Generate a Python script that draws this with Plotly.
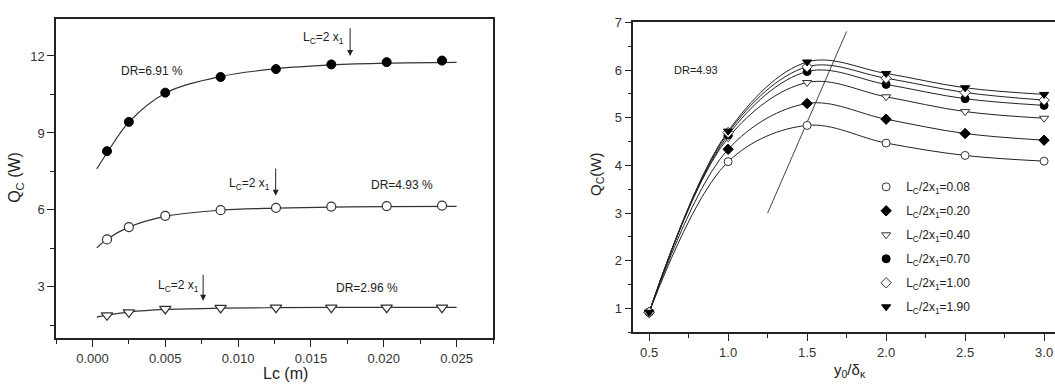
import plotly.graph_objects as go

# ---------------- data: left panel ----------------
lc_x = [0.001, 0.0025, 0.005, 0.0088, 0.0126, 0.0164, 0.0202, 0.024]
q_dr691 = [8.29, 9.43, 10.57, 11.18, 11.49, 11.67, 11.76, 11.82]
q_dr493 = [4.85, 5.33, 5.77, 5.99, 6.08, 6.13, 6.15, 6.17]
q_dr296 = [1.89, 2.01, 2.14, 2.18, 2.19, 2.19, 2.19, 2.19]

# fitted curves
fit_x = [0.0003, 0.001, 0.0025, 0.005, 0.0088, 0.0126, 0.0164, 0.0202, 0.025]
fit_691 = [7.6, 8.22, 9.42, 10.55, 11.2, 11.5, 11.65, 11.72, 11.75]
fit_493 = [4.52, 4.86, 5.33, 5.75, 5.99, 6.07, 6.11, 6.13, 6.14]
fit_296 = [1.82, 1.9, 2.02, 2.12, 2.17, 2.19, 2.2, 2.2, 2.2]

# ---------------- data: right panel ----------------
y0_x = [0.5, 1.0, 1.5, 2.0, 2.5, 3.0]
series_names = ["0.08", "0.20", "0.40", "0.70", "1.00", "1.90"]
q_008 = [0.92, 4.08, 4.84, 4.47, 4.21, 4.09]
q_020 = [0.92, 4.34, 5.30, 4.97, 4.67, 4.53]
q_040 = [0.92, 4.58, 5.74, 5.44, 5.13, 4.99]
q_070 = [0.92, 4.64, 5.97, 5.70, 5.40, 5.26]
q_100 = [0.92, 4.69, 6.07, 5.83, 5.53, 5.37]
q_190 = [0.92, 4.72, 6.17, 5.93, 5.63, 5.49]
right_series = [q_008, q_020, q_040, q_070, q_100, q_190]

# guide line in right panel
guide_x = [1.25, 1.75]
guide_y = [3.0, 6.81]

FONT = "Liberation Sans, Arial, sans-serif"
TXT = "#222222"

fig = go.Figure()

# left panel
for fy in [fit_691, fit_493, fit_296]:
    fig.add_trace(go.Scatter(x=fit_x, y=fy, mode="lines", line=dict(color="#333", width=1.2, shape="spline", smoothing=1.0),
                             xaxis="x", yaxis="y", showlegend=False, hoverinfo="skip"))
fig.add_trace(go.Scatter(x=lc_x, y=q_dr691, mode="markers", xaxis="x", yaxis="y", showlegend=False,
                         marker=dict(symbol="circle", size=9, color="black", line=dict(color="black", width=1))))
fig.add_trace(go.Scatter(x=lc_x, y=q_dr493, mode="markers", xaxis="x", yaxis="y", showlegend=False,
                         marker=dict(symbol="circle", size=9, color="white", line=dict(color="#333", width=1.2))))
fig.add_trace(go.Scatter(x=lc_x, y=q_dr296, mode="markers", xaxis="x", yaxis="y", showlegend=False,
                         marker=dict(symbol="triangle-down", size=10, color="white", line=dict(color="#333", width=1.2))))

# right panel
fig.add_trace(go.Scatter(x=guide_x, y=guide_y, mode="lines", line=dict(color="#444", width=1),
                         xaxis="x2", yaxis="y2", showlegend=False, hoverinfo="skip"))
for ys in right_series:
    fig.add_trace(go.Scatter(x=y0_x, y=ys, mode="lines", line=dict(color="#222", width=1, shape="spline", smoothing=1.0),
                             xaxis="x2", yaxis="y2", showlegend=False, hoverinfo="skip"))
symbols = [
    dict(symbol="circle", color="white", line=dict(color="#333", width=1)),
    dict(symbol="diamond", color="black", line=dict(color="black", width=1)),
    dict(symbol="triangle-down", color="white", line=dict(color="#333", width=1)),
    dict(symbol="circle", color="black", line=dict(color="black", width=1)),
    dict(symbol="diamond", color="white", line=dict(color="#333", width=1)),
    dict(symbol="triangle-down", color="black", line=dict(color="black", width=1)),
]
for name, ys, sym in zip(series_names, right_series, symbols):
    fig.add_trace(go.Scatter(x=y0_x, y=ys, mode="markers", xaxis="x2", yaxis="y2",
                             name=f"L<sub>C</sub>/2x<sub>1</sub>={name}", legendgroup=name,
                             marker=dict(size=8, **sym)))

axis_common = dict(showline=True, linecolor="#222", linewidth=1.5, ticks="outside", ticklen=7, tickwidth=1.2,
                   tickcolor="#222", showgrid=False, zeroline=False,
                   tickfont=dict(family=FONT, size=13, color="#333"))

fig.update_layout(
    width=1055, height=387, margin=dict(l=0, r=0, t=0, b=0),
    paper_bgcolor="white", plot_bgcolor="white",
    font=dict(family=FONT, color=TXT),
    xaxis=dict(domain=[0.0531, 0.4673], range=[-0.0025, 0.0275], dtick=0.005, tick0=0, tickformat=".3f",
               mirror=True, anchor="y", minor=dict(dtick=0.0025, ticks="outside", ticklen=4, tickcolor="#222"), **axis_common),
    yaxis=dict(domain=[0.1284, 0.969], range=[1.0, 13.45], dtick=3, tick0=0, mirror=True, anchor="x",
               minor=dict(dtick=1.5, ticks="outside", ticklen=4, tickcolor="#222"), **axis_common),
    xaxis2=dict(domain=[0.6003, 1.0], range=[0.4, 3.069], dtick=0.5, tick0=0, tickformat=".1f", mirror=True, anchor="y2",
                minor=dict(dtick=0.25, ticks="outside", ticklen=4, tickcolor="#222"), **axis_common),
    yaxis2=dict(domain=[0.1439, 0.9594], range=[0.5, 7.0], dtick=1, tick0=0, anchor="x2",
                minor=dict(dtick=0.5, ticks="outside", ticklen=4, tickcolor="#222"), **axis_common),
    legend=dict(x=0.821, y=0.565, xanchor="left", yanchor="top", bgcolor="rgba(0,0,0,0)",
                font=dict(family=FONT, size=12, color=TXT), tracegroupgap=5),
    showlegend=True,
)

ann_font = dict(family=FONT, size=12, color=TXT)


def txt(x, y, text, xref="x", yref="y", font=None, angle=0):
    return dict(x=x, y=y, xref=xref, yref=yref, text=text, showarrow=False, textangle=angle,
                xanchor="center", yanchor="middle", font=font or ann_font)


annotations = [
    txt(0.01587, 12.70, "L<sub>C</sub>=2 x<sub>1</sub>"),
    txt(0.01078, 7.02, "L<sub>C</sub>=2 x<sub>1</sub>"),
    txt(0.00588, 3.03, "L<sub>C</sub>=2 x<sub>1</sub>"),
    txt(0.00411, 11.43, "DR=6.91 %"),
    txt(0.02123, 6.99, "DR=4.93 %"),
    txt(0.01884, 2.96, "DR=2.96 %"),
    txt(0.797, 6.0, "DR=4.93", "x2", "y2", dict(family=FONT, size=11, color=TXT)),
    # axis titles
    txt(285 / 1055, 1 - 373 / 387, "Lc (m)", "paper", "paper", dict(family=FONT, size=16, color=TXT)),
    txt(16 / 1055, 1 - 174 / 387, "Q<sub>C</sub> (W)", "paper", "paper", dict(family=FONT, size=16, color=TXT), -90),
    txt(850 / 1055, 1 - 370 / 387, "y<sub>0</sub>/δ<sub>κ</sub>", "paper", "paper", dict(family=FONT, size=15, color=TXT)),
    txt(597 / 1055, 1 - 171 / 387, "Q<sub>C</sub>(W)", "paper", "paper", dict(family=FONT, size=15, color=TXT), -90),
]
# arrows (tail -> head)
arrows = [(0.01769, 13.14, 12.0), (0.01258, 7.67, 6.55), (0.0076, 3.53, 2.46)]
for ax_, y_tail, y_head in arrows:
    annotations.append(dict(x=ax_, y=y_head, ax=ax_, ay=y_tail, xref="x", yref="y", axref="x", ayref="y",
                            text="", showarrow=True, arrowhead=2, arrowsize=1.2, arrowwidth=1, arrowcolor="#222"))
fig.update_layout(annotations=annotations)

fig.write_html("out.html")
